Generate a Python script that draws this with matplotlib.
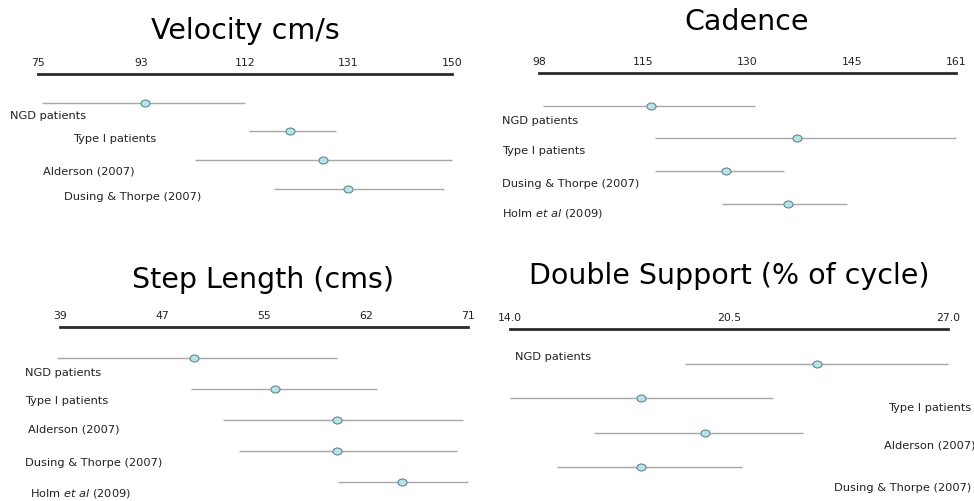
import numpy as np
import matplotlib
matplotlib.use("Agg")
import matplotlib.pyplot as plt
from matplotlib.path import Path
from matplotlib.transforms import Affine2D

plt.rcParams['font.family'] = ['DejaVu Sans']

W, H = 974, 502

# ---------------------------------------------------------------- data ---- #
vel_groups = ["NGD patients", "Type I patients", "Alderson (2007)", "Dusing & Thorpe (2007)"]
vel_mean = [94.4, 120.6, 126.6, 131.2]
vel_low = [75.7, 113.2, 103.4, 117.8]
vel_high = [112.5, 129.0, 150.0, 148.6]
vel_ticks = ["75", "93", "112", "131", "150"]
vel_range = (75, 150)

cad_groups = ["NGD patients", "Type I patients", "Dusing & Thorpe (2007)", "Holm $\\it{et\\ al}$ (2009)"]
cad_mean = [114.9, 137.0, 126.2, 135.6]
cad_low = [98.6, 115.5, 115.5, 125.6]
cad_high = [130.6, 161.0, 135.0, 144.5]
cad_ticks = ["98", "115", "130", "145", "161"]
cad_range = (98, 161)

step_groups = ["NGD patients", "Type I patients", "Alderson (2007)", "Dusing & Thorpe (2007)",
               "Holm $\\it{et\\ al}$ (2009)"]
step_mean = [49.5, 55.9, 60.7, 60.7, 65.8]
step_low = [38.8, 49.3, 51.8, 53.0, 60.8]
step_high = [60.7, 63.9, 70.6, 70.1, 71.0]
step_ticks = ["39", "47", "55", "62", "71"]
step_range = (39, 71)

ds_groups = ["NGD patients", "Type I patients", "Alderson (2007)", "Dusing & Thorpe (2007)"]
ds_mean = [23.1, 17.9, 19.8, 17.9]
ds_low = [19.2, 14.0, 16.5, 15.4]
ds_high = [27.0, 21.8, 22.7, 20.9]
ds_ticks = ["14.0", "20.5", "27.0"]
ds_range = (14.0, 27.0)

# -------------------------------------------------------------- layout ---- #
# axis line x0, x1, y (pixels), row spacing, title centre, label anchors
panels = [
    dict(title="Velocity cm/s", groups=vel_groups, mean=vel_mean, low=vel_low, high=vel_high,
         ticks=vel_ticks, rng=vel_range, x0=38, x1=452, y=75, step=28.7, tpos=(245, 31),
         labels=[(10, 116, 'left'), (73, 139, 'left'), (43, 172, 'left'), (64, 197, 'left')]),
    dict(title="Cadence", groups=cad_groups, mean=cad_mean, low=cad_low, high=cad_high,
         ticks=cad_ticks, rng=cad_range, x0=539, x1=956, y=74, step=32.7, tpos=(747, 22),
         labels=[(502, 121, 'left'), (502, 151, 'left'), (502, 184, 'left'), (502, 213, 'left')]),
    dict(title="Step Length (cms)", groups=step_groups, mean=step_mean, low=step_low, high=step_high,
         ticks=step_ticks, rng=step_range, x0=60, x1=468, y=328, step=31.0, tpos=(263, 280),
         labels=[(25, 373, 'left'), (25, 401, 'left'), (28, 430, 'left'), (25, 463, 'left'),
                 (30, 494, 'left')]),
    dict(title="Double Support (% of cycle)", groups=ds_groups, mean=ds_mean, low=ds_low, high=ds_high,
         ticks=ds_ticks, rng=ds_range, x0=510, x1=948, y=330, step=34.5, tpos=(729, 276),
         labels=[(515, 357, 'left'), (971, 408, 'right'), (975, 446, 'right'), (971, 488, 'right')]),
]

oval = Path.unit_circle().transformed(Affine2D().scale(1.3, 1.0))

fig = plt.figure(figsize=(W / 100, H / 100), dpi=100)

for p in panels:
    n = len(p['groups'])
    bottom = p['y'] + p['step'] * (n + 0.5)
    ax = fig.add_axes([p['x0'] / W, 1 - bottom / H, (p['x1'] - p['x0']) / W, (bottom - p['y']) / H])
    ax.set_xlim(*p['rng'])
    ax.set_ylim(n - 0.5, -1)
    ax.patch.set_visible(False)
    for s in ['left', 'right', 'bottom']:
        ax.spines[s].set_visible(False)
    ax.spines['top'].set_color('#2a2a2a')
    ax.spines['top'].set_linewidth(2.0)
    ax.set_yticks([])
    ax.xaxis.tick_top()
    ax.set_xticks(np.linspace(p['rng'][0], p['rng'][1], len(p['ticks'])))
    ax.set_xticklabels(p['ticks'], fontsize=7.8, color='#222222')
    ax.tick_params(axis='x', length=0, pad=5)

    rows = np.arange(n)
    ax.hlines(rows, p['low'], p['high'], color='#a8a8a8', lw=1.0, clip_on=False)
    ax.plot(p['mean'], rows, ls='none', marker=oval, ms=6.5, mfc='#b8e2e6', mec='#5f8a90',
            mew=0.8, clip_on=False, zorder=3)

    for name, (lx, ly, ha) in zip(p['groups'], p['labels']):
        fig.text(lx / W, 1 - ly / H, name, fontsize=8.2, ha=ha, va='center', color='#222222')

    fig.text(p['tpos'][0] / W, 1 - p['tpos'][1] / H, p['title'], fontsize=20.5, ha='center', va='center')

fig.savefig("out.png", dpi=100)
